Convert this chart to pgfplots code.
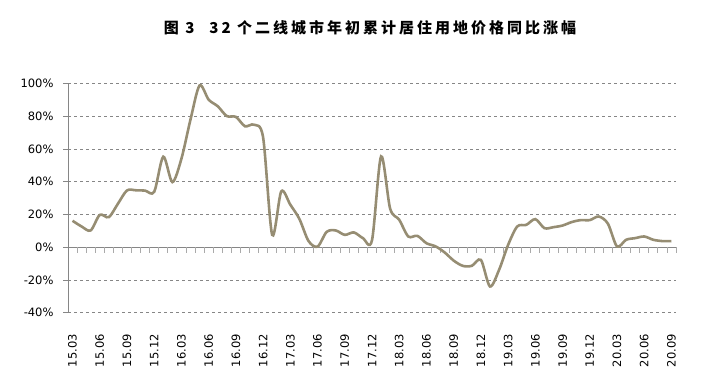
\documentclass[border=0pt]{standalone}
\usepackage{pgfplots}
\pgfplotsset{compat=1.18}
\usepackage{fontspec}
\setmainfont{DejaVu Sans}
\newfontfamily\cjk{Noto Sans CJK SC}
\definecolor{linec}{RGB}{150,141,115}
\definecolor{gridc}{RGB}{134,134,134}
\definecolor{tickc}{RGB}{170,170,170}
\begin{document}
\begin{tikzpicture}[x=1pt,y=1pt]
\path[use as bounding box] (0,0) rectangle (703,382);
\node[font=\cjk\bfseries\fontsize{15}{17}\selectfont\addfontfeature{LetterSpace=20}] at (370,354) {图 3\quad 32 个二线城市年初累计居住用地价格同比涨幅};
\begin{axis}[
  at={(68pt,69.3pt)}, anchor=south west,
  scale only axis, width=608pt, height=229.4pt,
  xmin=-0.5, xmax=66.5, ymin=-40, ymax=100,
  axis x line*=bottom, axis y line*=left,
  x axis line style={draw=none},
  y axis line style={draw=gridc, line width=0.8pt},
  xtick={0,3,...,66},
  xticklabels={15.03,15.06,15.09,15.12,16.03,16.06,16.09,16.12,17.03,17.06,17.09,17.12,18.03,18.06,18.09,18.12,19.03,19.06,19.09,19.12,20.03,20.06,20.09},
  xtick style={draw=none},
  tick label style={font=\fontsize{11.5}{13}\selectfont},
  /pgf/number format/assume math mode=true,
  xticklabel style={yshift=-13pt, rotate=90, anchor=east},
  ytick={-40,-20,0,20,40,60,80,100},
  yticklabels={-40\%,-20\%,0\%,20\%,40\%,60\%,80\%,100\%},
  ytick style={draw=gridc, line width=0.6pt},
  major tick length=5pt, tick align=outside,
  yticklabel style={xshift=-6pt},
  ymajorgrids, grid style={draw=gridc, dashed, line width=0.6pt},
  clip=false,
]
\draw[gridc, line width=0.8pt] (axis cs:-0.5,0) -- (axis cs:66.5,0);
\pgfplotsinvokeforeach{0,...,66}{\draw[tickc, line width=0.8pt] (axis cs:#1+0.5,0) -- ([yshift=-6pt]axis cs:#1+0.5,0);}
\addplot[linec, line width=2.6pt, smooth, tension=0.5] coordinates {
(0,16.1)(1,12.6)(2,10.2)(3,19.7)(4,18.3)(5,26.5)(6,34.6)(7,34.7)(8,34.5)(9,33.8)
(10,55.2)(11,39.7)(12,54.0)(13,77.9)(14,98.7)(15,90.0)(16,86.0)(17,80.0)(18,79.5)(19,73.8)
(20,74.7)(21,67.0)(22,7.5)(23,34.0)(24,25.9)(25,17.2)(26,3.8)(27,0.3)(28,9.3)(29,10.2)
(30,7.5)(31,9.0)(32,5.5)(33,4.2)(34,55.4)(35,23.5)(36,16.7)(37,6.5)(38,6.9)(39,2.4)
(40,0.5)(41,-3.2)(42,-8.2)(43,-11.4)(44,-11.4)(45,-7.8)(46,-24.0)(47,-13.9)(48,1.4)(49,12.6)
(50,13.6)(51,17.1)(52,11.6)(53,12.2)(54,13.2)(55,15.3)(56,16.5)(57,16.5)(58,18.7)(59,14.3)
(60,0.4)(61,4.5)(62,5.5)(63,6.5)(64,4.5)(65,3.7)(66,3.7)
};
\end{axis}
\end{tikzpicture}
\end{document}
